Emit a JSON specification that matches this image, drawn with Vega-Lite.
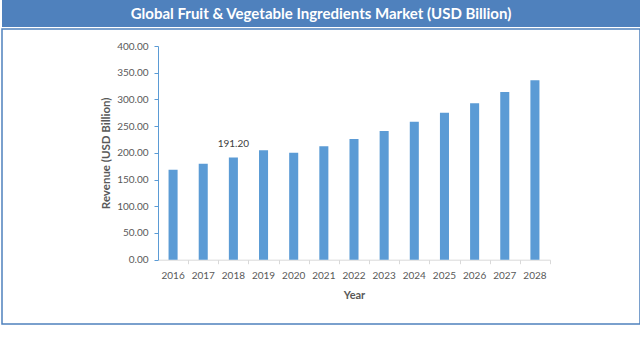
{
  "$schema": "https://vega.github.io/schema/vega-lite/v6.json",
  "padding": {"left": 1, "top": 0, "right": 1, "bottom": 38},
  "background": "white",
  "spacing": 1,
  "config": {"font": "Lato", "view": {"stroke": null}},
  "vconcat": [
    {
      "width": 638,
      "height": 27,
      "view": {"fill": "#4F81BD", "stroke": null},
      "data": {"values": [{"t": "Global Fruit & Vegetable Ingredients Market (USD Billion)"}]},
      "mark": {"type": "text", "color": "white", "fontWeight": "bold", "fontSize": 15, "font": "Lato"},
      "encoding": {"text": {"field": "t"}}
    },
    {
      "width": 638,
      "height": 295,
      "view": {"fill": "white", "stroke": "#4F81BD", "strokeWidth": 1.5},
      "data": {"values": [
        {"year": "2016", "revenue": 168.5},
        {"year": "2017", "revenue": 179.5},
        {"year": "2018", "revenue": 191.2},
        {"year": "2019", "revenue": 205.0},
        {"year": "2020", "revenue": 200.0},
        {"year": "2021", "revenue": 212.5},
        {"year": "2022", "revenue": 226.0},
        {"year": "2023", "revenue": 241.0},
        {"year": "2024", "revenue": 258.0},
        {"year": "2025", "revenue": 275.0},
        {"year": "2026", "revenue": 293.0},
        {"year": "2027", "revenue": 314.0},
        {"year": "2028", "revenue": 336.0}
      ]},
      "layer": [
        {
          "mark": {"type": "bar", "color": "#5B9BD5"},
          "encoding": {
            "x": {
              "field": "year", "type": "ordinal",
              "scale": {"type": "band", "range": [156, 548], "paddingInner": 0.7, "paddingOuter": 0.35},
              "axis": {
                "orient": "bottom", "offset": -64.3, "title": "Year", "labelAngle": 0,
                "ticks": false, "tickSize": 0, "labelPadding": 10.5,
                "domainColor": "#D9D9D9", "domainWidth": 1,
                "labelFont": "Lato", "labelFontSize": 10, "labelColor": "#595959",
                "titleFont": "Lato", "titleFontSize": 11, "titleFontWeight": "bold", "titleColor": "#595959", "titlePadding": 9
              }
            },
            "y": {
              "field": "revenue", "type": "quantitative",
              "scale": {"domain": [0, 400], "range": [230.7, 17], "nice": false},
              "axis": {
                "orient": "left", "offset": -156, "format": ".2f", "values": [0, 50, 100, 150, 200, 250, 300, 350, 400],
                "labelOverlap": false, "labelFlush": false,
                "grid": false, "domainColor": "#5B9BD5", "tickColor": "#5B9BD5", "ticks": true, "tickSize": 4, "labelPadding": 6,
                "labelFont": "Lato", "labelFontSize": 10, "labelColor": "#595959",
                "title": "Revenue  (USD Billion)", "titleFont": "Lato", "titleFontSize": 11.5, "titleFontWeight": "bold", "titleColor": "#595959", "titlePadding": 5
              }
            }
          }
        },
        {
          "transform": [{"filter": "datum.year == '2018'"}],
          "mark": {"type": "text", "baseline": "bottom", "dy": -9, "fontSize": 10, "color": "#404040", "font": "Lato"},
          "encoding": {
            "x": {
              "field": "year", "type": "ordinal",
              "axis": {
                "orient": "bottom", "offset": -64.3, "title": null, "labels": false, "domain": false,
                "ticks": true, "tickSize": 4, "tickColor": "#D9D9D9", "tickOffset": 15.1
              }
            },
            "y": {
              "field": "revenue", "type": "quantitative",
              "axis": {
                "orient": "left", "offset": -156, "format": ".2f", "values": [0, 50, 100, 150, 200, 250, 300, 350, 400],
                "labelOverlap": false, "labelFlush": false,
                "grid": false, "domainColor": "#5B9BD5", "tickColor": "#5B9BD5", "ticks": true, "tickSize": 4, "labelPadding": 6,
                "labelFont": "Lato", "labelFontSize": 10, "labelColor": "#595959",
                "title": "Revenue  (USD Billion)", "titleFont": "Lato", "titleFontSize": 11.5, "titleFontWeight": "bold", "titleColor": "#595959", "titlePadding": 5
              }
            },
            "text": {"field": "revenue", "type": "quantitative", "format": ".2f"}
          }
        }
      ],
      "resolve": {"axis": {"x": "independent", "y": "shared"}}
    }
  ]
}
